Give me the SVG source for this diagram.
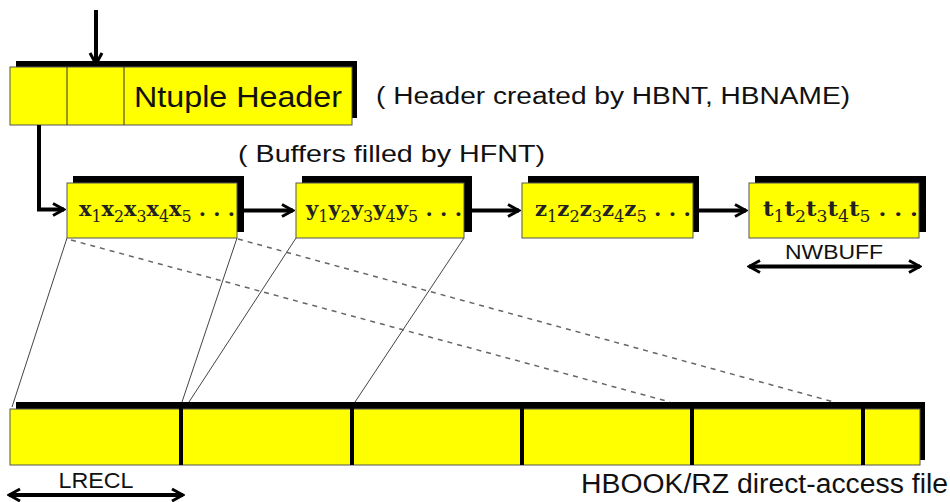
<svg xmlns="http://www.w3.org/2000/svg" width="950" height="502" viewBox="0 0 950 502">
  <style>
    .box { fill: #ffff00; stroke: #555; stroke-width: 1; }
    .shadow { fill: #000; }
    .sep { stroke: #333; stroke-width: 1; }
    .label { font-family: "Liberation Sans", Arial, sans-serif; fill: #111; }
    .cell { font-family: "DejaVu Serif", "Liberation Serif", serif; font-weight: bold; font-size: 21px; fill: #222; }
    .sub { font-size: 16px; font-weight: normal; }
    .thick { stroke: #000; stroke-width: 4; fill: none; }
    .map { stroke: #444; stroke-width: 1; fill: none; }
    .dash { stroke: #666; stroke-width: 1.5; stroke-dasharray: 5 5; fill: none; }
  </style>
  <defs>
    <marker id="head" viewBox="0 0 16 16" refX="14" refY="8" markerWidth="16" markerHeight="16" markerUnits="userSpaceOnUse" orient="auto-start-reverse">
      <path d="M3,2 L14,8 L3,14" fill="none" stroke="#000" stroke-width="3"/>
    </marker>
  </defs>

  <rect width="950" height="502" fill="#fff"/>

  <!-- header block -->
  <g id="ntuple-header">
    <rect class="shadow" x="16" y="61" width="341" height="57"/>
    <rect class="box" x="10" y="67" width="342" height="58"/>
    <line class="sep" x1="67" y1="67" x2="67" y2="125"/>
    <line class="sep" x1="124" y1="67" x2="124" y2="125"/>
    <text class="label" x="134" y="107" font-size="30" textLength="208" lengthAdjust="spacingAndGlyphs">Ntuple Header</text>
  </g>
  <text id="header-note" class="label" x="376" y="104" font-size="23" textLength="474" lengthAdjust="spacingAndGlyphs">( Header created by HBNT, HBNAME)</text>
  <text id="buffer-note" class="label" x="238" y="162" font-size="24" textLength="307" lengthAdjust="spacingAndGlyphs">( Buffers filled by HFNT)</text>

  <!-- column buffers -->
  <g id="buffer-x">
    <rect class="shadow" x="73" y="176" width="171" height="56"/>
    <rect class="box" x="67" y="183" width="170" height="55"/>
    <text class="cell" x="79" y="216" textLength="156" lengthAdjust="spacingAndGlyphs">x<tspan class="sub" dy="6">1</tspan><tspan dy="-6">x</tspan><tspan class="sub" dy="6">2</tspan><tspan dy="-6">x</tspan><tspan class="sub" dy="6">3</tspan><tspan dy="-6">x</tspan><tspan class="sub" dy="6">4</tspan><tspan dy="-6">x</tspan><tspan class="sub" dy="6">5</tspan><tspan dy="-6"> . . .</tspan></text>
  </g>
  <g id="buffer-y">
    <rect class="shadow" x="302" y="176" width="170" height="56"/>
    <rect class="box" x="296" y="183" width="168" height="55"/>
    <text class="cell" x="306" y="216" textLength="156" lengthAdjust="spacingAndGlyphs">y<tspan class="sub" dy="6">1</tspan><tspan dy="-6">y</tspan><tspan class="sub" dy="6">2</tspan><tspan dy="-6">y</tspan><tspan class="sub" dy="6">3</tspan><tspan dy="-6">y</tspan><tspan class="sub" dy="6">4</tspan><tspan dy="-6">y</tspan><tspan class="sub" dy="6">5</tspan><tspan dy="-6"> . . .</tspan></text>
  </g>
  <g id="buffer-z">
    <rect class="shadow" x="528" y="176" width="171" height="56"/>
    <rect class="box" x="522" y="183" width="171" height="55"/>
    <text class="cell" x="535" y="216" textLength="156" lengthAdjust="spacingAndGlyphs">z<tspan class="sub" dy="6">1</tspan><tspan dy="-6">z</tspan><tspan class="sub" dy="6">2</tspan><tspan dy="-6">z</tspan><tspan class="sub" dy="6">3</tspan><tspan dy="-6">z</tspan><tspan class="sub" dy="6">4</tspan><tspan dy="-6">z</tspan><tspan class="sub" dy="6">5</tspan><tspan dy="-6"> . . .</tspan></text>
  </g>
  <g id="buffer-t">
    <rect class="shadow" x="755" y="176" width="171" height="56"/>
    <rect class="box" x="749" y="183" width="170" height="55"/>
    <text class="cell" x="763" y="216" textLength="155" lengthAdjust="spacingAndGlyphs">t<tspan class="sub" dy="6">1</tspan><tspan dy="-6">t</tspan><tspan class="sub" dy="6">2</tspan><tspan dy="-6">t</tspan><tspan class="sub" dy="6">3</tspan><tspan dy="-6">t</tspan><tspan class="sub" dy="6">4</tspan><tspan dy="-6">t</tspan><tspan class="sub" dy="6">5</tspan><tspan dy="-6"> . . .</tspan></text>
  </g>

  <!-- direct-access file records -->
  <g id="rz-file">
    <rect class="shadow" x="16" y="402" width="909" height="58"/>
    <rect class="box" x="10" y="409" width="910" height="56"/>
    <rect class="shadow" x="179" y="402" width="4" height="63"/>
    <rect class="shadow" x="350" y="402" width="4" height="63"/>
    <rect class="shadow" x="520" y="402" width="4" height="63"/>
    <rect class="shadow" x="690" y="402" width="4" height="63"/>
    <rect class="shadow" x="861" y="402" width="4" height="63"/>
  </g>
  <text id="file-label" class="label" x="581" y="493" font-size="27" textLength="367" lengthAdjust="spacingAndGlyphs">HBOOK/RZ direct-access file</text>

  <!-- dimension labels -->
  <g id="nwbuff">
    <line class="thick" x1="749" y1="266.5" x2="920" y2="266.5" marker-start="url(#head)" marker-end="url(#head)" stroke-width="3.5"/>
    <text class="label" x="834" y="259" font-size="20" text-anchor="middle" textLength="98" lengthAdjust="spacingAndGlyphs">NWBUFF</text>
  </g>
  <g id="lrecl">
    <line class="thick" x1="9" y1="495" x2="183" y2="495" marker-start="url(#head)" marker-end="url(#head)" stroke-width="3.5"/>
    <text class="label" x="96" y="488" font-size="22" text-anchor="middle" textLength="75" lengthAdjust="spacingAndGlyphs">LRECL</text>
  </g>

  <!-- connectors -->
  <g id="connectors">
    <line class="thick" x1="96" y1="10" x2="96" y2="64" marker-end="url(#head)"/>
    <path class="thick" d="M39,125 V209.5 H64" marker-end="url(#head)"/>
    <line class="thick" x1="244" y1="210.5" x2="293" y2="210.5" marker-end="url(#head)" stroke-width="3.5"/>
    <line class="thick" x1="472" y1="210.5" x2="519" y2="210.5" marker-end="url(#head)" stroke-width="3.5"/>
    <line class="thick" x1="699" y1="210.5" x2="746" y2="210.5" marker-end="url(#head)" stroke-width="3.5"/>

    <line class="map" x1="67" y1="238" x2="12" y2="407"/>
    <line class="map" x1="237" y1="238" x2="182" y2="402"/>
    <line class="map" x1="296" y1="238" x2="189" y2="402"/>
    <line class="map" x1="464" y1="238" x2="355" y2="402"/>

    <line class="dash" x1="71" y1="240" x2="670" y2="402"/>
    <line class="dash" x1="238" y1="239" x2="834" y2="402"/>
  </g>
</svg>
